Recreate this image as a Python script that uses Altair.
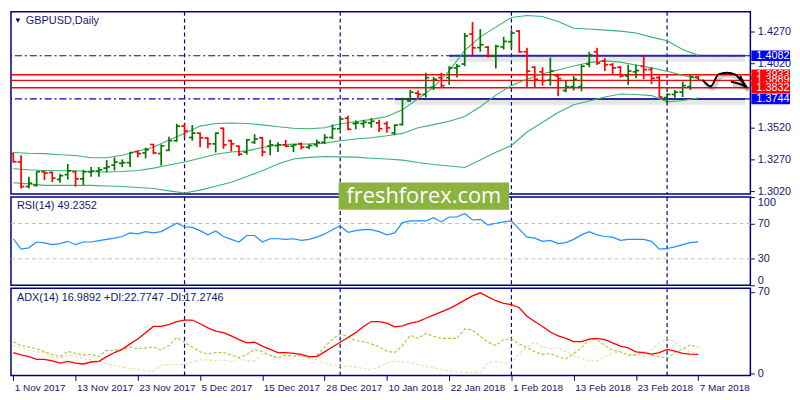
import json

import altair as alt
import numpy as np
import pandas as pd

# --- GBPUSD daily, 1 Nov 2017 .. 7 Mar 2018 (bar index 0..88) ---
OPEN = [1.3316, 1.3250, 1.3058, 1.3067, 1.3174, 1.3168, 1.3113, 1.3151, 1.3174, 1.3118,
        1.3174, 1.3179, 1.3202, 1.3225, 1.3240, 1.3245, 1.3331, 1.3321, 1.3387, 1.3316,
        1.3341, 1.3417, 1.3531, 1.3442, 1.3476, 1.3437, 1.3392, 1.3514, 1.3417, 1.3374,
        1.3328, 1.3404, 1.3440, 1.3374, 1.3379, 1.3384, 1.3374, 1.3392, 1.3366, 1.3384,
        1.3404, 1.3442, 1.3511, 1.3592, 1.3551, 1.3551, 1.3556, 1.3556, 1.3551, 1.3478,
        1.3544, 1.3728, 1.3789, 1.3779, 1.3835, 1.3911, 1.3911, 1.3987, 1.4017, 1.4252,
        1.4146, 1.4149, 1.4078, 1.4151, 1.4192, 1.4275, 1.4113, 1.3992, 1.3956, 1.3890,
        1.3924, 1.3810, 1.3840, 1.3840, 1.4017, 1.4113, 1.4042, 1.4012, 1.3992, 1.3924,
        1.3956, 1.4000, 1.3974, 1.3911, 1.3754, 1.3779, 1.3797, 1.3840, 1.3916]
HIGH = [1.3324, 1.3303, 1.3134, 1.3176, 1.3181, 1.3174, 1.3159, 1.3235, 1.3181, 1.3189,
        1.3210, 1.3210, 1.3265, 1.3286, 1.3270, 1.3328, 1.3341, 1.3362, 1.3392, 1.3387,
        1.3447, 1.3549, 1.3549, 1.3539, 1.3481, 1.3442, 1.3481, 1.3519, 1.3424, 1.3379,
        1.3430, 1.3468, 1.3447, 1.3424, 1.3404, 1.3424, 1.3392, 1.3404, 1.3392, 1.3424,
        1.3468, 1.3544, 1.3607, 1.3612, 1.3576, 1.3581, 1.3594, 1.3581, 1.3569, 1.3544,
        1.3754, 1.3814, 1.3810, 1.3949, 1.3916, 1.3949, 1.4000, 1.4017, 1.4260, 1.4346,
        1.4291, 1.4159, 1.4169, 1.4230, 1.4283, 1.4283, 1.4144, 1.4000, 1.3992, 1.4068,
        1.3941, 1.3886, 1.3924, 1.4012, 1.4113, 1.4144, 1.4063, 1.4025, 1.4000, 1.4012,
        1.4012, 1.4083, 1.3992, 1.3924, 1.3789, 1.3814, 1.3880, 1.3936, 1.3924]
LOW = [1.3245, 1.3042, 1.3042, 1.3058, 1.3108, 1.3093, 1.3088, 1.3113, 1.3058, 1.3070,
       1.3134, 1.3134, 1.3169, 1.3184, 1.3210, 1.3210, 1.3286, 1.3278, 1.3311, 1.3222,
       1.3336, 1.3409, 1.3442, 1.3417, 1.3366, 1.3358, 1.3324, 1.3354, 1.3333, 1.3298,
       1.3308, 1.3392, 1.3295, 1.3303, 1.3328, 1.3366, 1.3328, 1.3349, 1.3349, 1.3366,
       1.3392, 1.3430, 1.3506, 1.3501, 1.3506, 1.3518, 1.3518, 1.3485, 1.3480, 1.3460,
       1.3536, 1.3721, 1.3746, 1.3754, 1.3814, 1.3835, 1.3855, 1.3911, 1.4000, 1.4088,
       1.4113, 1.4068, 1.3982, 1.4131, 1.4139, 1.4108, 1.3835, 1.3835, 1.3848, 1.3848,
       1.3764, 1.3797, 1.3810, 1.3804, 1.3992, 1.4009, 1.3962, 1.3936, 1.3911, 1.3855,
       1.3906, 1.3898, 1.3860, 1.3754, 1.3708, 1.3754, 1.3759, 1.3814, 1.3890]
CLOSE = [1.3252, 1.3058, 1.3083, 1.3174, 1.3164, 1.3123, 1.3143, 1.3181, 1.3118, 1.3174,
         1.3179, 1.3189, 1.3212, 1.3250, 1.3245, 1.3324, 1.3316, 1.3346, 1.3321, 1.3377,
         1.3417, 1.3531, 1.3493, 1.3476, 1.3440, 1.3392, 1.3476, 1.3384, 1.3392, 1.3311,
         1.3424, 1.3430, 1.3328, 1.3384, 1.3384, 1.3374, 1.3384, 1.3366, 1.3379, 1.3404,
         1.3442, 1.3511, 1.3587, 1.3506, 1.3556, 1.3561, 1.3569, 1.3511, 1.3518, 1.3539,
         1.3744, 1.3797, 1.3779, 1.3911, 1.3898, 1.3848, 1.3987, 1.4000, 1.4237, 1.4144,
         1.4169, 1.4080, 1.4156, 1.4194, 1.4260, 1.4113, 1.3962, 1.3898, 1.3886, 1.3962,
         1.3903, 1.3840, 1.3898, 1.4000, 1.4088, 1.4025, 1.4012, 1.3987, 1.3924, 1.3962,
         1.3966, 1.3974, 1.3906, 1.3759, 1.3779, 1.3797, 1.3848, 1.3916, 1.3890]
BARS = list(range(len(CLOSE)))

# Bollinger bands (20) read every second bar
BAND_BARS = list(range(0, 89, 2))
BB_UPPER = [1.3324, 1.3318, 1.3316, 1.3307, 1.3301, 1.3283, 1.3283, 1.3303, 1.3336, 1.3366,
            1.3423, 1.3474, 1.3531, 1.3551, 1.3556, 1.3551, 1.3541, 1.3526, 1.3514, 1.3511,
            1.3518, 1.3550, 1.3565, 1.3584, 1.3607, 1.3660, 1.3744, 1.3835, 1.3964, 1.4124,
            1.4230, 1.4306, 1.4382, 1.4397, 1.4389, 1.4351, 1.4298, 1.4291, 1.4283, 1.4275,
            1.4260, 1.4228, 1.4199, 1.4131, 1.4085]
BB_MIDDLE = [1.3197, 1.3189, 1.3184, 1.3181, 1.3181, 1.3174, 1.3172, 1.3176, 1.3184, 1.3202,
             1.3227, 1.3250, 1.3280, 1.3311, 1.3328, 1.3337, 1.3364, 1.3383, 1.3390, 1.3392,
             1.3398, 1.3417, 1.3430, 1.3440, 1.3455, 1.3474, 1.3518, 1.3543, 1.3569, 1.3607,
             1.3683, 1.3774, 1.3850, 1.3898, 1.3941, 1.3971, 1.4002, 1.4028, 1.4042, 1.4032,
             1.4009, 1.3987, 1.3960, 1.3930, 1.3903]
BB_LOWER = [1.3088, 1.3079, 1.3067, 1.3067, 1.3067, 1.3067, 1.3062, 1.3058, 1.3050, 1.3042,
            1.3024, 1.3007, 1.3030, 1.3060, 1.3091, 1.3136, 1.3181, 1.3235, 1.3273, 1.3286,
            1.3293, 1.3290, 1.3288, 1.3280, 1.3273, 1.3265, 1.3246, 1.3231, 1.3219, 1.3207,
            1.3265, 1.3326, 1.3379, 1.3485, 1.3561, 1.3637, 1.3698, 1.3728, 1.3759, 1.3782,
            1.3778, 1.3770, 1.3721, 1.3732, 1.3751]

RSI = [52.7, 41.0, 42.4, 49.0, 48.0, 46.0, 47.2, 49.8, 46.0, 49.0,
       49.0, 50.5, 52.0, 53.4, 55.3, 59.3, 58.2, 60.8, 59.3, 60.8,
       65.6, 70.3, 66.3, 65.6, 61.9, 57.1, 61.5, 55.3, 52.0, 49.0,
       56.4, 56.4, 49.0, 52.7, 52.7, 52.0, 52.7, 50.9, 52.0, 54.5,
       58.2, 63.0, 67.4, 60.0, 61.9, 63.0, 63.0, 60.8, 57.1, 59.3,
       71.0, 72.9, 72.9, 72.9, 76.6, 71.8, 77.4, 77.4, 81.3, 74.0,
       74.7, 68.1, 70.3, 71.8, 72.9, 63.7, 54.5, 53.4, 49.8, 50.9,
       47.2, 48.3, 52.0, 57.1, 60.8, 57.1, 55.3, 54.5, 50.9, 52.0,
       52.0, 52.0, 49.8, 41.0, 41.7, 43.5, 46.0, 48.3, 49.2]

ADX = [18.0, 16.0, 14.5, 12.2, 12.2, 10.9, 9.0, 10.4, 9.0, 8.2,
       9.9, 10.4, 14.5, 18.0, 20.7, 25.4, 29.5, 35.0, 40.3, 40.3,
       41.8, 44.5, 45.8, 45.8, 42.6, 39.1, 36.3, 35.0, 32.2, 29.0,
       26.2, 26.8, 23.5, 20.7, 18.0, 18.0, 17.2, 16.4, 14.5, 14.5,
       18.6, 22.7, 26.8, 30.9, 35.0, 40.3, 44.5, 44.5, 43.2, 39.9,
       40.8, 43.2, 44.5, 47.3, 50.0, 52.7, 55.5, 59.0, 62.8, 66.4,
       69.1, 65.6, 62.3, 60.1, 59.0, 56.3, 49.1, 44.5, 40.3, 35.5,
       32.2, 30.1, 27.3, 27.3, 29.5, 30.1, 29.0, 26.2, 23.5, 21.9,
       18.6, 18.0, 16.7, 18.0, 20.7, 19.1, 17.2, 16.7, 16.5]
PLUS_DI = [27.3, 24.0, 22.7, 21.3, 18.6, 16.4, 14.5, 19.1, 17.2, 15.8,
           16.4, 14.5, 20.0, 20.0, 20.7, 22.7, 21.3, 22.0, 22.7, 20.0,
           24.0, 30.9, 26.8, 22.7, 18.6, 16.7, 18.0, 18.0, 15.8, 13.7,
           16.4, 20.7, 18.6, 15.8, 13.7, 15.8, 15.0, 15.4, 13.1, 15.8,
           22.7, 29.5, 33.6, 31.9, 28.1, 27.3, 25.4, 22.7, 19.1, 18.0,
           24.0, 32.8, 30.1, 34.5, 31.9, 30.1, 30.1, 30.1, 38.3, 37.1,
           31.9, 26.8, 24.0, 29.0, 29.5, 25.4, 22.0, 18.6, 16.4, 17.2,
           14.5, 12.5, 17.2, 22.0, 29.5, 29.0, 24.0, 20.0, 18.6, 15.8,
           15.8, 18.6, 15.8, 14.5, 13.1, 18.0, 21.3, 24.5, 22.7]
MINUS_DI = [24.0, 22.7, 20.0, 18.6, 18.0, 14.5, 13.1, 15.8, 15.0, 12.5,
            11.7, 10.9, 8.2, 7.1, 5.5, 4.4, 3.5, 2.2, 2.2, 7.1,
            7.7, 7.7, 7.7, 9.9, 11.7, 11.7, 10.9, 11.7, 10.4, 13.1,
            10.9, 10.9, 17.2, 15.4, 13.1, 13.1, 18.0, 15.8, 13.1, 11.7,
            9.0, 7.7, 6.3, 6.3, 5.5, 4.4, 3.5, 5.5, 9.0, 10.9,
            9.9, 9.0, 7.7, 6.3, 4.9, 3.5, 2.1, 1.6, 0.8, 0.8,
            0.8, 9.0, 10.4, 9.0, 9.0, 17.2, 22.7, 26.8, 22.7, 21.3,
            22.0, 18.6, 15.8, 13.1, 10.9, 10.9, 14.5, 17.2, 18.6, 15.8,
            16.4, 14.5, 20.0, 26.2, 30.1, 26.8, 22.0, 18.6, 17.2]

TICK_BARS = list(range(0, 89, 8))
TICK_LABELS = ["1 Nov 2017", "13 Nov 2017", "23 Nov 2017", "5 Dec 2017", "15 Dec 2017",
               "28 Dec 2017", "10 Jan 2018", "22 Jan 2018", "1 Feb 2018", "13 Feb 2018",
               "23 Feb 2018", "7 Mar 2018"]
SEPARATORS = [22, 42, 64, 84]  # month starts
PRICE_TICKS = [1.3020, 1.3270, 1.3520, 1.4020, 1.4270]
RED_LEVELS = [1.3933, 1.3889, 1.3832]
BLUE_LEVELS = [1.4082, 1.3744]
BLUE_SEG_START = [56, 49]
BLUE_SEG_END = [94.0, 94.0]
LEVEL_LABELS = ["1.3933", "1.3889", "1.3832", "1.4082", "1.3744"]
LEVEL_PRICES = [1.3933, 1.3889, 1.3832, 1.4082, 1.3744]
LEVEL_FILLS = ["#ff0000", "#ff0000", "#ff0000", "#0000ff", "#0000ff"]
ARROW_BAR = [88.55, 89.6, 90.6, 91.7, 92.7, 93.55, 94.2]
ARROW_PRICE = [1.3893, 1.3843, 1.3936, 1.3949, 1.3936, 1.3886, 1.3835]
HEAD_BAR = [92.2, 94.2, 93.4]
HEAD_PRICE = [1.3878, 1.3835, 1.3924]

NAVY = "#000080"
TXT = "#16166a"
FONT = "Liberation Sans"
W = 746
H_PRICE, H_RSI, H_ADX = 184, 89, 88

x_scale = alt.Scale(domain=[-0.3, 94.7], nice=False, zero=False)
p_scale = alt.Scale(domain=[1.2999, 1.4427], nice=False, zero=False)
r_scale = alt.Scale(domain=[0, 100], nice=False, zero=False)
a_scale = alt.Scale(domain=[-1.6, 73], nice=False, zero=False)

p_axis = alt.Axis(orient="right", values=PRICE_TICKS, format=".4f", title=None, tickSize=4, labelPadding=3)
r_axis = alt.Axis(orient="right", values=[0, 30, 70, 100], title=None, tickSize=4, labelPadding=3, labelFlush=True)
a_axis = alt.Axis(orient="right", values=[0, 70], title=None, tickSize=4, labelPadding=3)
x_axis = alt.Axis(values=TICK_BARS, title=None, labelAlign="left", labelOffset=1, tickSize=5, labelPadding=2,
                  labelOverlap=False, labelBound=False, labelFontSize=10,
                  labelExpr=json.dumps(TICK_LABELS) + "[round(datum.value / 8)]")


def X(field):
    return alt.X(field, scale=x_scale, axis=None)


def PY(field):
    return alt.Y(field, scale=p_scale, axis=p_axis)


one = pd.DataFrame({"t": [""]})

# ---------------- price panel ----------------
ohlc = pd.DataFrame({"bar": BARS, "open": OPEN, "high": HIGH, "low": LOW, "close": CLOSE})
ohlc["col"] = np.where(ohlc["close"] >= ohlc["open"], "#007800", "#ff0000")
ohlc["left"] = ohlc["bar"] - 0.42
ohlc["right"] = ohlc["bar"] + 0.42
bar_color = alt.Color("col:N", scale=None)

seps = pd.DataFrame({"bar": SEPARATORS})
sep_layer = alt.Chart(seps).mark_rule(color=NAVY, strokeDash=[4, 3], strokeWidth=1.2).encode(x=X("bar:Q"))

bands = pd.DataFrame({"bar": BAND_BARS, "upper": BB_UPPER, "middle": BB_MIDDLE, "lower": BB_LOWER})
band_layer = alt.Chart(bands).transform_fold(["upper", "middle", "lower"], as_=["band", "value"]).mark_line(
    color="#3cb371", strokeWidth=1.1
).encode(x=X("bar:Q"), y=PY("value:Q"), detail="band:N")

blue_full = alt.Chart(pd.DataFrame({"price": BLUE_LEVELS})).mark_rule(
    color="#0000c8", strokeDash=[7, 3, 2, 3], strokeWidth=1.2
).encode(y=PY("price:Q"))
segs = pd.DataFrame({"start": BLUE_SEG_START, "end": BLUE_SEG_END, "price": BLUE_LEVELS})
seg_shadow = alt.Chart(segs).mark_rule(color="#707088", strokeWidth=6, opacity=0.18, yOffset=3).encode(
    x=X("start:Q"), x2="end:Q", y=PY("price:Q"))
seg_line = alt.Chart(segs).mark_rule(color="#2a2a9a", strokeWidth=2).encode(
    x=X("start:Q"), x2="end:Q", y=PY("price:Q"))
red_lines = alt.Chart(pd.DataFrame({"price": RED_LEVELS})).mark_rule(color="#ff0000", strokeWidth=1.4).encode(
    y=PY("price:Q"))

hl = alt.Chart(ohlc).mark_rule(strokeWidth=1.7).encode(x=X("bar:Q"), y=PY("high:Q"), y2="low:Q", color=bar_color)
op = alt.Chart(ohlc).mark_rule(strokeWidth=1.7).encode(x=X("left:Q"), x2="bar:Q", y=PY("open:Q"), color=bar_color)
cl = alt.Chart(ohlc).mark_rule(strokeWidth=1.7).encode(x=X("bar:Q"), x2="right:Q", y=PY("close:Q"), color=bar_color)

arrow = pd.DataFrame({"bar": ARROW_BAR, "price": ARROW_PRICE, "i": range(len(ARROW_BAR))})
head = pd.DataFrame({"bar": HEAD_BAR, "price": HEAD_PRICE, "i": range(len(HEAD_BAR))})
arrow_layers = []
for d in (arrow, head):
    arrow_layers.append(alt.Chart(d).mark_line(color="#000000", strokeWidth=3.5, opacity=0.18, xOffset=2, yOffset=3,
                                               interpolate="monotone").encode(x=X("bar:Q"), y=PY("price:Q"), order="i:Q"))
    arrow_layers.append(alt.Chart(d).mark_line(color="#000000", strokeWidth=2, interpolate="monotone").encode(
        x=X("bar:Q"), y=PY("price:Q"), order="i:Q"))

HALF = 0.0042
label_layers = []
for txt, price, fill in zip(LEVEL_LABELS, LEVEL_PRICES, LEVEL_FILLS):
    d = pd.DataFrame({"price": [price], "text": [txt], "lo": [price - HALF], "hi": [price + HALF]})
    label_layers.append(alt.Chart(d).mark_rect(fill=fill).encode(
        x=alt.value(W + 1), x2=alt.value(W + 40), y=PY("lo:Q"), y2="hi:Q"))
    label_layers.append(alt.Chart(d).mark_text(align="left", baseline="middle", color="white", font=FONT,
                                               fontSize=11).encode(x=alt.value(W + 6), y=PY("price:Q"), text="text:N"))

title_tri = alt.Chart(one).mark_point(shape="triangle-down", filled=True, size=22, color=NAVY, opacity=1).encode(
    x=alt.value(7), y=alt.value(9))
title_txt = alt.Chart(pd.DataFrame({"t": ["GBPUSD,Daily"]})).mark_text(
    align="left", baseline="middle", color=TXT, font=FONT, fontSize=11).encode(x=alt.value(15), y=alt.value(9), text="t:N")

price = alt.layer(
    sep_layer, blue_full, seg_shadow, seg_line, red_lines, band_layer, hl, op, cl,
    *arrow_layers, *label_layers, title_tri, title_txt
).properties(width=W, height=H_PRICE)

# ---------------- RSI panel ----------------
rsi_df = pd.DataFrame({"bar": BARS, "rsi": RSI})
rsi_levels = alt.Chart(pd.DataFrame({"lvl": [30, 70]})).mark_rule(color="#c0c0c0", strokeDash=[4, 3]).encode(
    y=alt.Y("lvl:Q", scale=r_scale, axis=r_axis))
rsi_line = alt.Chart(rsi_df).mark_line(color="#1e90ff", strokeWidth=1.2).encode(
    x=X("bar:Q"), y=alt.Y("rsi:Q", scale=r_scale, axis=r_axis))
rsi_txt = alt.Chart(pd.DataFrame({"t": ["RSI(14) 49.2352"]})).mark_text(
    align="left", baseline="middle", color=TXT, font=FONT, fontSize=11).encode(x=alt.value(6), y=alt.value(9), text="t:N")
wm = pd.DataFrame({"x1": [41.8], "x2": [63.7], "top": [116.5], "bottom": [85.5], "mid": [101.0], "xc": [52.75],
                   "t": ["freshforex.com"]})
wm_rect = alt.Chart(wm).mark_rect(fill="#8cb23f").encode(
    x=X("x1:Q"), x2="x2:Q", y=alt.Y("top:Q", scale=r_scale, axis=r_axis), y2="bottom:Q")
wm_text = alt.Chart(wm).mark_text(color="white", font="Open Sans", fontSize=22, align="center", baseline="middle").encode(
    x=X("xc:Q"), y=alt.Y("mid:Q", scale=r_scale, axis=r_axis), text="t:N")
rsi = alt.layer(sep_layer, rsi_levels, rsi_line, rsi_txt, wm_rect, wm_text).properties(width=W, height=H_RSI)

# ---------------- ADX panel ----------------
adx_df = pd.DataFrame({"bar": BARS, "adx": ADX, "pdi": PLUS_DI, "mdi": MINUS_DI})


def XA(field):
    return alt.X(field, scale=x_scale, axis=x_axis)


def AY(field):
    return alt.Y(field, scale=a_scale, axis=a_axis)


adx_sep = alt.Chart(seps).mark_rule(color=NAVY, strokeDash=[4, 3], strokeWidth=1.2).encode(x=XA("bar:Q"))
mdi_line = alt.Chart(adx_df).mark_line(color="#f3d9a8", strokeWidth=1.1, strokeDash=[3, 2]).encode(
    x=XA("bar:Q"), y=AY("mdi:Q"))
pdi_line = alt.Chart(adx_df).mark_line(color="#9acd32", strokeWidth=1.1, strokeDash=[3, 2]).encode(
    x=XA("bar:Q"), y=AY("pdi:Q"))
adx_line = alt.Chart(adx_df).mark_line(color="#ff0000", strokeWidth=1.3).encode(x=XA("bar:Q"), y=AY("adx:Q"))
adx_txt = alt.Chart(pd.DataFrame({"t": ["ADX(14) 16.9892 +DI:22.7747 -DI:17.2746"]})).mark_text(
    align="left", baseline="middle", color=TXT, font=FONT, fontSize=11).encode(x=alt.value(6), y=alt.value(10), text="t:N")
adx = alt.layer(adx_sep, mdi_line, pdi_line, adx_line, adx_txt).properties(width=W, height=H_ADX)

chart = alt.vconcat(price, rsi, adx, spacing=3, bounds="flush").properties(
    padding=0, background="white"
).configure_view(
    stroke=NAVY, strokeWidth=1.5
).configure_axis(
    labelFont=FONT, labelFontSize=11, labelColor=TXT, tickColor=NAVY, domain=False, grid=False
)

chart.save("out.html", embed_options={"renderer": "svg", "actions": False})
